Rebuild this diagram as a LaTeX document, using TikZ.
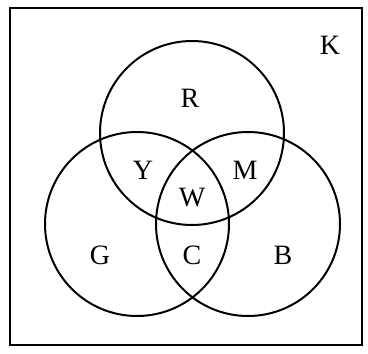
\documentclass[tikz,border=0pt]{standalone}
\usepackage{fontspec}
\setmainfont{Liberation Serif}
\usepackage{tikz}
\usetikzlibrary{shapes.geometric}
\tikzset{
  frame/.style={draw=black,line width=2pt},
  setcircle/.style={circle,draw=black,line width=2pt,minimum size=184pt,inner sep=0pt},
  region/.style={font=\fontsize{28}{32}\selectfont,inner sep=0pt},
}

\begin{document}
\begin{tikzpicture}[x=1pt,y=-1pt]
    \useasboundingbox (0,0) rectangle (368,354);
    \draw[frame] (10,8) rectangle (362,345);
    % the three sets
    \node[setcircle] (red) at (192,133) {};
    \node[setcircle] (green) at (137,224) {};
    \node[setcircle] (blue) at (248,224) {};
    % region letters
    \node[region] (k) at (330,45) {K};
    \node[region] (r) at (190,98) {R};
    \node[region] (y) at (143,170) {Y};
    \node[region] (m) at (245,170) {M};
    \node[region] (w) at (192,198) {W};
    \node[region] (g) at (100,255) {G};
    \node[region] (c) at (192,255) {C};
    \node[region] (b) at (283,255) {B};
\end{tikzpicture}
\end{document}
